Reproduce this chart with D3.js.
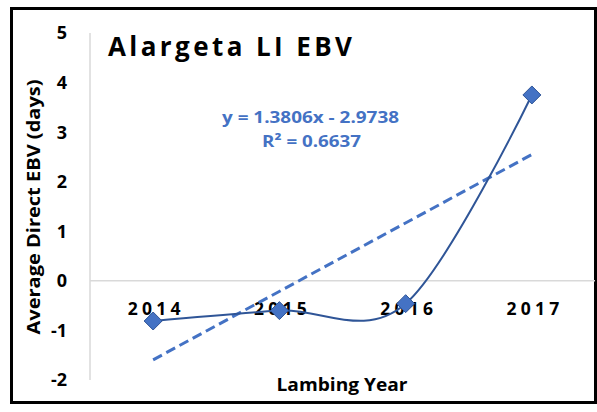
<!DOCTYPE html>
<html>
<head>
<meta charset="utf-8">
<script src="https://cdn.jsdelivr.net/npm/d3@7"></script>
<style>
  body { margin: 0; background: #fff; }
  text { font-family: "Open Sans", "Noto Sans", sans-serif; font-weight: bold; }
</style>
</head>
<body>
<div id="chart"></div>
<script>
// chart data
let years = ["2014", "2015", "2016", "2017"];
let ebv = [-0.81, -0.6, -0.46, 3.75];
let yTicks = [-2, -1, 0, 1, 2, 3, 4, 5];
let trendSlope = 1.3806, trendIntercept = -2.9738;
let trendLabel = ["y = 1.3806x - 2.9738", "R² = 0.6637"];

let W = 597, H = 412;
let margin = {top: 33, right: 2, bottom: 32, left: 90}
    , width = 595 - margin.left
    , height = 380 - margin.top;

let svg = d3.select("#chart").append("svg")
    .attr("width", W)
    .attr("height", H);

// outer frame
svg.append("rect")
    .attr("x", 11.5).attr("y", 8.5)
    .attr("width", 584).attr("height", 394)
    .attr("fill", "none")
    .attr("stroke", "#000")
    .attr("stroke-width", 3);

let g = svg.append("g")
    .attr("transform", "translate(" + margin.left + "," + margin.top + ")");

let x = d3.scaleBand()
    .domain(years)
    .range([0, width]);

let y = d3.scaleLinear()
    .domain([-2, 5])
    .range([height, 0]);

// vertical axis line
g.append("line")
    .attr("x1", 0).attr("x2", 0)
    .attr("y1", y(5)).attr("y2", y(-2))
    .attr("stroke", "#d9d9d9").attr("stroke-width", 1.5);

// horizontal axis at zero
g.append("line")
    .attr("x1", 0).attr("x2", width)
    .attr("y1", y(0)).attr("y2", y(0))
    .attr("stroke", "#d9d9d9").attr("stroke-width", 1.5);

// y tick labels
g.selectAll(".ytick")
    .data(yTicks)
    .enter().append("text")
    .attr("class", "ytick")
    .attr("x", -23)
    .attr("y", d => y(d))
    .attr("dy", "0.36em")
    .attr("text-anchor", "end")
    .style("font-size", "18px")
    .text(d => d);

// category labels
g.selectAll(".xtick")
    .data(years)
    .enter().append("text")
    .attr("class", "xtick")
    .attr("x", d => x(d) + x.bandwidth() / 2 + 1)
    .attr("y", y(0) + 34)
    .attr("text-anchor", "middle")
    .attr("textLength", 53)
    .attr("lengthAdjust", "spacing")
    .style("font-size", "17.5px")
    .text(d => d);

// trend line from the regression equation
let cx = d => x(d) + x.bandwidth() / 2;
g.append("line")
    .attr("x1", cx(years[0]))
    .attr("y1", y(trendSlope * 1 + trendIntercept))
    .attr("x2", cx(years[3]))
    .attr("y2", y(trendSlope * 4 + trendIntercept))
    .attr("stroke", "#4472c4")
    .attr("stroke-width", 3)
    .attr("stroke-dasharray", "10,5");

// smoothed series line
let line = d3.line()
    .x((d, i) => cx(years[i]))
    .y(d => y(d))
    .curve(d3.curveCardinal.tension(0));

g.append("path")
    .datum(ebv)
    .attr("d", line)
    .attr("fill", "none")
    .attr("stroke", "#2f5597")
    .attr("stroke-width", 2);

// diamond markers
g.selectAll(".marker")
    .data(ebv)
    .enter().append("path")
    .attr("class", "marker")
    .attr("transform", (d, i) => "translate(" + cx(years[i]) + "," + y(d) + ")")
    .attr("d", "M0,-9L9,0L0,9L-9,0Z")
    .attr("fill", "#4472c4")
    .attr("stroke", "#2f5597")
    .attr("stroke-width", 1);

// title
svg.append("text")
    .attr("x", 108)
    .attr("y", 56)
    .attr("textLength", 244)
    .attr("lengthAdjust", "spacing")
    .style("font-size", "26px")
    .text("Alargeta LI EBV");

// trend equation
svg.selectAll(".eq")
    .data(trendLabel)
    .enter().append("text")
    .attr("class", "eq")
    .attr("x", (d, i) => i ? 262 : 222)
    .attr("y", (d, i) => 123 + i * 24)
    .attr("textLength", (d, i) => i ? 99 : 177)
    .attr("lengthAdjust", "spacingAndGlyphs")
    .style("font-size", "16.5px")
    .style("fill", "#4472c4")
    .text(d => d);

// axis titles
svg.append("text")
    .attr("transform", "translate(40,207) rotate(-90)")
    .attr("text-anchor", "middle")
    .attr("textLength", 255)
    .attr("lengthAdjust", "spacingAndGlyphs")
    .style("font-size", "18.5px")
    .text("Average Direct EBV (days)");

svg.append("text")
    .attr("x", 342)
    .attr("y", 391)
    .attr("text-anchor", "middle")
    .attr("textLength", 131)
    .attr("lengthAdjust", "spacingAndGlyphs")
    .style("font-size", "18px")
    .text("Lambing Year");
</script>
</body>
</html>
